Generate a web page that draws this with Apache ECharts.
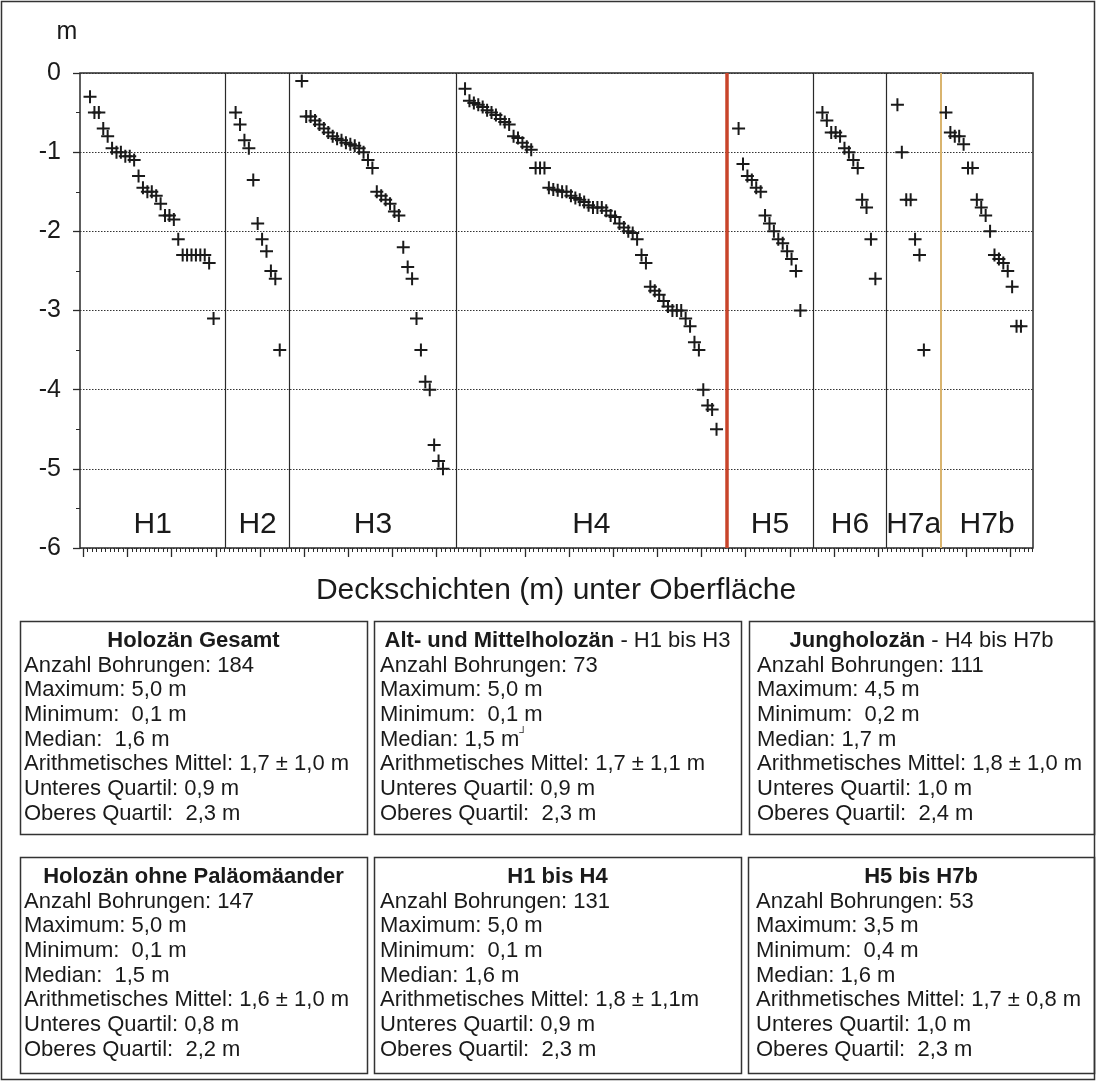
<!DOCTYPE html>
<html>
<head>
<meta charset="utf-8">
<script src="https://cdn.jsdelivr.net/npm/echarts@6/dist/echarts.min.js"></script>
<style>
html,body{margin:0;padding:0;background:#fff;}
#chart{width:1096px;height:1081px;}
</style>
</head>
<body>
<div id="chart"></div>
<script>
// ---------------- data ----------------
const groupNames = ['H1', 'H2', 'H3', 'H4', 'H5', 'H6', 'H7a', 'H7b'];
const depthH1 = [-0.3, -0.5, -0.5, -0.7, -0.8, -0.95, -1.0, -1.0, -1.05, -1.05, -1.1, -1.3, -1.45, -1.5, -1.5, -1.55, -1.65, -1.8, -1.8, -1.85, -2.1, -2.3, -2.3, -2.3, -2.3, -2.3, -2.3, -2.4, -3.1];
const depthH2 = [-0.5, -0.65, -0.85, -0.95, -1.35, -1.9, -2.1, -2.25, -2.5, -2.6, -3.5];
const depthH3 = [-0.1, -0.55, -0.55, -0.6, -0.65, -0.7, -0.75, -0.8, -0.83, -0.85, -0.88, -0.9, -0.92, -0.95, -1.0, -1.1, -1.2, -1.5, -1.55, -1.6, -1.65, -1.75, -1.8, -2.2, -2.45, -2.6, -3.1, -3.5, -3.9, -4.0, -4.7, -4.9, -5.0];
const depthH4 = [-0.2, -0.35, -0.38, -0.4, -0.43, -0.47, -0.5, -0.53, -0.58, -0.62, -0.65, -0.8, -0.82, -0.88, -0.93, -0.97, -1.2, -1.2, -1.2, -1.45, -1.47, -1.48, -1.5, -1.5, -1.55, -1.58, -1.6, -1.63, -1.67, -1.7, -1.7, -1.7, -1.74, -1.8, -1.82, -1.9, -1.95, -2.0, -2.02, -2.1, -2.3, -2.4, -2.7, -2.75, -2.8, -2.88, -2.95, -3.0, -3.0, -3.0, -3.1, -3.2, -3.4, -3.5, -4.0, -4.2, -4.25, -4.5];
const depthH5 = [-0.7, -1.15, -1.3, -1.35, -1.45, -1.5, -1.8, -1.9, -2.0, -2.1, -2.15, -2.25, -2.35, -2.5, -3.0];
const depthH6 = [-0.5, -0.6, -0.75, -0.75, -0.8, -0.95, -1.0, -1.1, -1.2, -1.6, -1.7, -2.1, -2.6];
const depthH7a = [-0.4, -1.0, -1.6, -1.6, -2.1, -2.3, -3.5];
const depthH7b = [-0.5, -0.75, -0.8, -0.8, -0.9, -1.2, -1.2, -1.6, -1.7, -1.8, -2.0, -2.3, -2.35, -2.4, -2.5, -2.7, -3.2, -3.2];
// group separators, in x-axis units (boring index positions)
const separators = [33.0, 47.5, 85.3, 146.5, 166.3, 182.7, 195.2];
const yTicks = [0, -1, -2, -3, -4, -5, -6];
const xTitle = 'Deckschichten (m) unter Oberfläche';
const yUnit = 'm';

// statistics boxes
const titleGesamt = ['Holozän Gesamt', ''];
const linesGesamt = ['Anzahl Bohrungen: 184', 'Maximum: 5,0 m', 'Minimum:  0,1 m', 'Median:  1,6 m', 'Arithmetisches Mittel: 1,7 ± 1,0 m', 'Unteres Quartil: 0,9 m', 'Oberes Quartil:  2,3 m'];
const titleAltMittel = ['Alt- und Mittelholozän', ' - H1 bis H3'];
const linesAltMittel = ['Anzahl Bohrungen: 73', 'Maximum: 5,0 m', 'Minimum:  0,1 m', 'Median: 1,5 m{s|┘}', 'Arithmetisches Mittel: 1,7 ± 1,1 m', 'Unteres Quartil: 0,9 m', 'Oberes Quartil:  2,3 m'];
const titleJung = ['Jungholozän', ' - H4 bis H7b'];
const linesJung = ['Anzahl Bohrungen: 111', 'Maximum: 4,5 m', 'Minimum:  0,2 m', 'Median: 1,7 m', 'Arithmetisches Mittel: 1,8 ± 1,0 m', 'Unteres Quartil: 1,0 m', 'Oberes Quartil:  2,4 m'];
const titleOhne = ['Holozän ohne Paläomäander', ''];
const linesOhne = ['Anzahl Bohrungen: 147', 'Maximum: 5,0 m', 'Minimum:  0,1 m', 'Median:  1,5 m', 'Arithmetisches Mittel: 1,6 ± 1,0 m', 'Unteres Quartil: 0,8 m', 'Oberes Quartil:  2,2 m'];
const titleH1H4 = ['H1 bis H4', ''];
const linesH1H4 = ['Anzahl Bohrungen: 131', 'Maximum: 5,0 m', 'Minimum:  0,1 m', 'Median: 1,6 m', 'Arithmetisches Mittel: 1,8 ± 1,1m', 'Unteres Quartil: 0,9 m', 'Oberes Quartil:  2,3 m'];
const titleH5H7 = ['H5 bis H7b', ''];
const linesH5H7 = ['Anzahl Bohrungen: 53', 'Maximum: 3,5 m', 'Minimum:  0,4 m', 'Median: 1,6 m', 'Arithmetisches Mittel: 1,7 ± 0,8 m', 'Unteres Quartil: 1,0 m', 'Oberes Quartil:  2,3 m'];

// ---------------- build ----------------
const groupDepths = [depthH1, depthH2, depthH3, depthH4, depthH5, depthH6, depthH7a, depthH7b];
const FONT = '"Liberation Sans", Arial, sans-serif';
const INK = '#1a1a1a';
const X_MAX = 216;
const firstPos = 2.27;   // position of first boring on the index axis
const groupStep = 5;     // index distance between last boring of a group and first of next

const points = [];
let pos = firstPos;
groupDepths.forEach((arr, gi) => {
  if (gi > 0) pos += groupStep - 1;
  arr.forEach((d) => {
    points.push([pos, d]);
    pos += 1;
  });
});

const edges = [0].concat(separators, [X_MAX]);
const areas = groupNames.map((n, i) => [
  { xAxis: edges[i], name: n },
  { xAxis: edges[i + 1] }
]);
const sepLines = separators.map((s, i) => {
  const item = { xAxis: s };
  if (i === 3) item.lineStyle = { color: '#c8442a', width: 3.5, type: 'solid' };
  if (i === 6) item.lineStyle = { color: '#d9b46e', width: 2, type: 'solid' };
  return item;
});

const PLUS = 'path://M5.5,0H7.5V5.5H13V7.5H7.5V13H5.5V7.5H0V5.5H5.5Z';

// layout of plot
const G_LEFT = 80, G_TOP = 73, G_W = 953, G_H = 475;
const TICK_LEFT = 83.3, PX_PER_UNIT = 4.416;
const BOX_FS = 22;

// statistic boxes graphics
const boxes = [
  { t: titleGesamt, l: linesGesamt, x: 20, y: 621, w: 347, h: 213, pad: 4 },
  { t: titleAltMittel, l: linesAltMittel, x: 374, y: 621, w: 367, h: 213, pad: 6 },
  { t: titleJung, l: linesJung, x: 749, y: 621, w: 345, h: 213, pad: 8 },
  { t: titleOhne, l: linesOhne, x: 20, y: 857, w: 347, h: 216, pad: 4 },
  { t: titleH1H4, l: linesH1H4, x: 374, y: 857, w: 367, h: 216, pad: 6 },
  { t: titleH5H7, l: linesH5H7, x: 748, y: 857, w: 346, h: 216, pad: 8 }
];
const graphics = [
  { type: 'rect', shape: { x: 1.5, y: 1.5, width: 1093, height: 1078 }, style: { fill: 'none', stroke: '#333', lineWidth: 1.5 }, silent: true },
  { type: 'text', style: { text: yUnit, x: 67, y: 32, align: 'center', verticalAlign: 'middle', font: '25px ' + FONT, fill: INK } },
  { type: 'text', style: { text: xTitle, x: 556, y: 591, align: 'center', verticalAlign: 'middle', font: '30px ' + FONT, fill: INK } }
];
boxes.forEach(b => {
  graphics.push({ type: 'rect', shape: { x: b.x + 0.5, y: b.y + 0.5, width: b.w, height: b.h }, style: { fill: 'none', stroke: '#333', lineWidth: 1.5 }, silent: true });
  graphics.push({
    type: 'text',
    style: {
      text: '{b|' + b.t[0] + '}' + (b.t[1] ? '{n|' + b.t[1] + '}' : ''),
      x: b.x + b.w / 2, y: b.y + 19.5, align: 'center', verticalAlign: 'middle',
      rich: {
        b: { fontFamily: FONT, fontSize: BOX_FS, fontWeight: 'bold', fill: INK },
        n: { fontFamily: FONT, fontSize: BOX_FS, fill: INK }
      }
    }
  });
  graphics.push({
    type: 'text',
    style: {
      text: b.l.join('\n'),
      x: b.x + b.pad, y: b.y + 32.2, align: 'left', verticalAlign: 'top',
      fontFamily: FONT, fontSize: BOX_FS, lineHeight: 24.7, fill: INK,
      rich: { s: { fontFamily: FONT, fontSize: 11, fill: INK, verticalAlign: 'top' } }
    }
  });
});

const chart = echarts.init(document.getElementById('chart'), null, { renderer: 'canvas' });
chart.setOption({
  backgroundColor: '#fff',
  animation: false,
  grid: [
    { left: G_LEFT, top: G_TOP, width: G_W, height: G_H, show: true, borderColor: '#2a2a2a', borderWidth: 1.5, backgroundColor: 'transparent' },
    { left: TICK_LEFT, top: G_TOP, width: 210 * PX_PER_UNIT, height: G_H, show: false },
    { left: TICK_LEFT, top: G_TOP, width: 215 * PX_PER_UNIT, height: G_H, show: false }
  ],
  xAxis: [
    { gridIndex: 0, type: 'value', min: 0, max: X_MAX, axisLine: { show: false }, axisTick: { show: false }, axisLabel: { show: false }, splitLine: { show: false } },
    { gridIndex: 1, type: 'value', min: 0, max: 210, interval: 10, position: 'bottom', axisLine: { show: false },
      axisTick: { show: true, length: 9, lineStyle: { color: '#2a2a2a', width: 1.3 } }, axisLabel: { show: false }, splitLine: { show: false } },
    { gridIndex: 2, type: 'value', min: 0, max: 215, interval: 1, position: 'bottom', axisLine: { show: false },
      axisTick: { show: true, length: 4, lineStyle: { color: '#2a2a2a', width: 1 } }, axisLabel: { show: false }, splitLine: { show: false } }
  ],
  yAxis: [
    { gridIndex: 0, type: 'value', min: yTicks[yTicks.length - 1], max: yTicks[0], interval: 1,
      axisLine: { show: false },
      axisTick: { show: true, length: 7, lineStyle: { color: '#2a2a2a', width: 1.3 } },
      minorTick: { show: true, splitNumber: 2, length: 4, lineStyle: { color: '#2a2a2a', width: 1 } },
      axisLabel: { fontFamily: FONT, fontSize: 25, color: INK, margin: 19 },
      splitLine: { show: true, lineStyle: { color: '#333', type: [1.5, 1.5], width: 1 } } },
    { gridIndex: 1, type: 'value', min: 0, max: 1, show: false },
    { gridIndex: 2, type: 'value', min: 0, max: 1, show: false }
  ],
  graphic: graphics,
  series: [{
    type: 'scatter',
    xAxisIndex: 0, yAxisIndex: 0,
    data: points,
    symbol: PLUS,
    symbolSize: 13,
    itemStyle: { color: INK, opacity: 1 },
    silent: true,
    z: 5,
    markLine: {
      silent: true,
      symbol: ['none', 'none'],
      label: { show: false },
      lineStyle: { color: '#2a2a2a', width: 1.2, type: 'solid' },
      data: sepLines,
      z: 3
    },
    markArea: {
      silent: true,
      itemStyle: { color: 'rgba(0,0,0,0)' },
      label: { show: true, position: 'insideBottom', distance: 8, fontFamily: FONT, fontSize: 30, color: INK },
      data: areas
    }
  }]
});
</script>
</body>
</html>
